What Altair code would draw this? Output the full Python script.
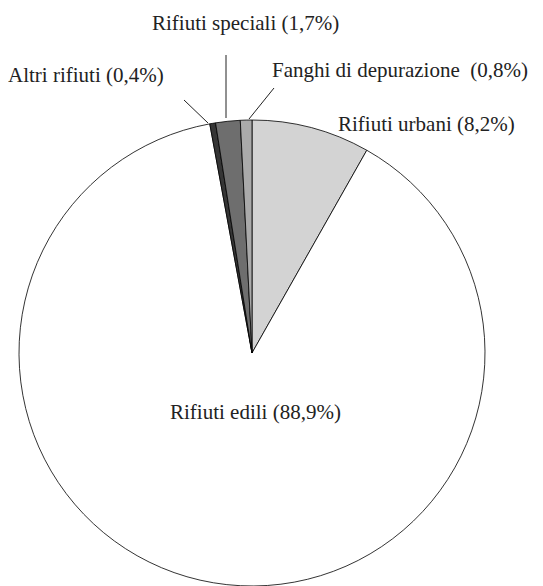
import altair as alt
import pandas as pd

# ---- data ----
categories = ["Rifiuti urbani", "Rifiuti edili", "Altri rifiuti",
              "Rifiuti speciali", "Fanghi di depurazione"]
shares = [8.2, 88.9, 0.4, 1.7, 0.8]
share_text = ["8,2%", "88,9%", "0,4%", "1,7%", "0,8%"]
separators = [" ", " ", " ", " ", "\u00a0 "]

# ---- styles ----
fills = ["#d3d3d3", "#ffffff", "#353535", "#6e6e6e", "#aaaaaa"]
FONT = "'Liberation Serif', 'Times New Roman', Times, 'DejaVu Serif', serif"

# ---- layout (view pixel coordinates) ----
CX, CY, R = 244, 345, 233
label_x = [330, 162, 0, 144, 264]
label_y = [117, 405, 68, 16, 63]
line_x = [176, 218, 266]
line_y = [92, 47, 80]
line_x2 = [200, 218, 241]
line_y2 = [115, 110, 111]

df = pd.DataFrame({"cat": categories, "share": shares, "idx": list(range(len(categories)))})

pie = alt.Chart(df).mark_arc(stroke="black", strokeWidth=0.8, radius=R).encode(
    theta=alt.Theta("share:Q", stack=True),
    order=alt.Order("idx:Q"),
    color=alt.Color("cat:N", scale=alt.Scale(domain=categories, range=fills), legend=None),
    x=alt.value(CX),
    y=alt.value(CY),
)

labels_df = pd.DataFrame({
    "text": [f"{c}{s}({t})" for c, s, t in zip(categories, separators, share_text)],
    "lx": label_x,
    "ly": label_y,
})
labels = alt.Chart(labels_df).mark_text(
    font=FONT, fontSize=21, align="left", baseline="middle", color="#222222"
).encode(
    x=alt.X("lx:Q", scale=None, axis=None),
    y=alt.Y("ly:Q", scale=None, axis=None),
    text="text:N",
)

lines_df = pd.DataFrame({"x": line_x, "y": line_y, "x2": line_x2, "y2": line_y2})
leaders = alt.Chart(lines_df).mark_rule(color="#222222", strokeWidth=1).encode(
    x=alt.X("x:Q", scale=None, axis=None),
    y=alt.Y("y:Q", scale=None, axis=None),
    x2="x2:Q",
    y2="y2:Q",
)

chart = alt.layer(pie, leaders, labels).properties(
    width=527, height=578, autosize="none", padding=0
).configure_view(stroke=None)

chart.save("out.html", embed_options={"renderer": "svg", "actions": False})
